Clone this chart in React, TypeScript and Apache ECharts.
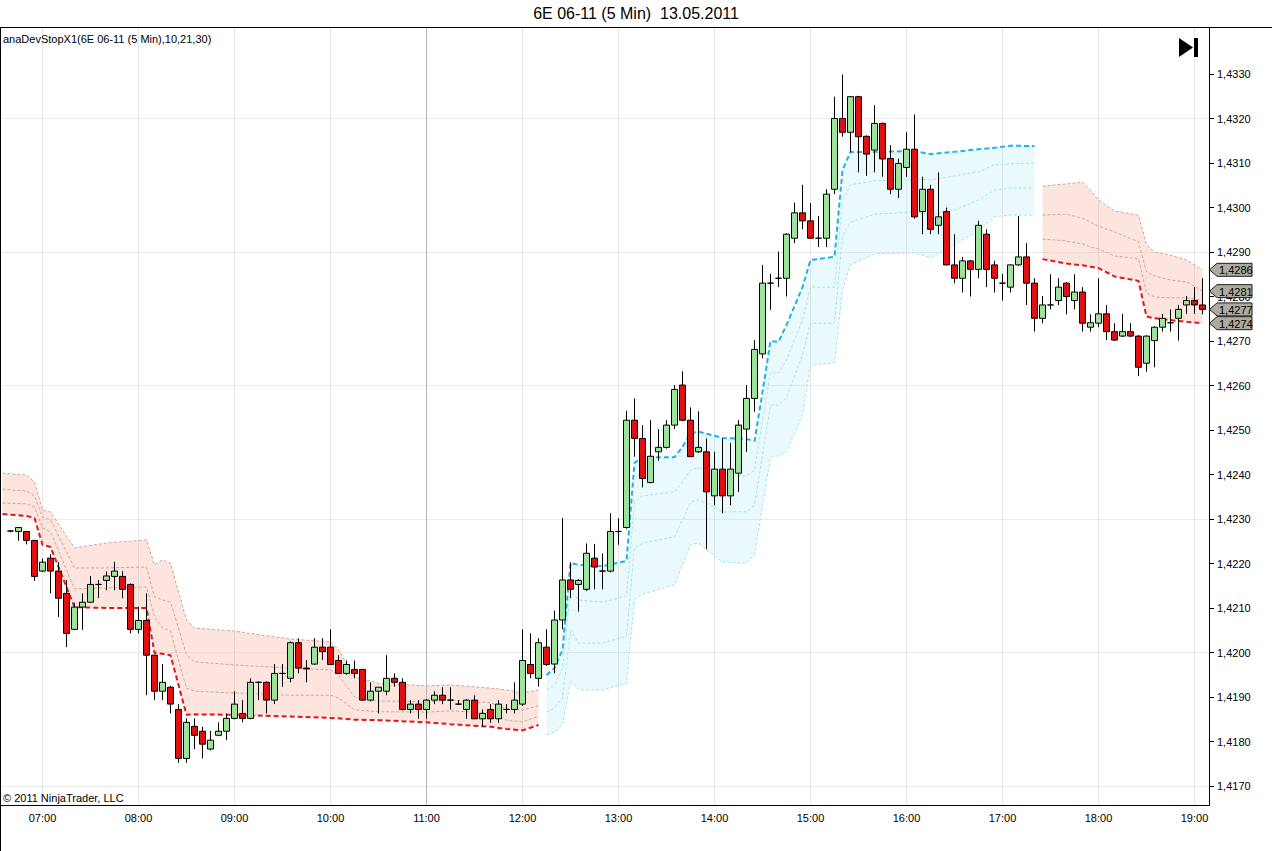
import React, { useEffect, useRef } from "react";
import * as echarts from "echarts";

// ---------- texts ----------
const TITLE = "6E 06-11 (5 Min)\u00a0 13.05.2011";
const INDICATOR_LABEL = "anaDevStopX1(6E 06-11 (5 Min),10,21,30)";
const COPYRIGHT = "\u00a9 2011 NinjaTrader, LLC";
const FONT = "'Liberation Sans', Arial, sans-serif";

// ---------- categories (5-minute slots, first slot has no bar) ----------
const FIRST_SLOT = "06:35";
const SLOT_COUNT = 151;
function buildSlots(): string[] {
  const [h0, m0] = FIRST_SLOT.split(":").map(Number);
  const out: string[] = [];
  for (let i = 0; i < SLOT_COUNT; i++) {
    const t = h0 * 60 + m0 + 5 * i;
    out.push(String(Math.floor(t / 60)).padStart(2, "0") + ":" + String(t % 60).padStart(2, "0"));
  }
  return out;
}
const slots = buildSlots();

// ---------- y tick labels ----------
const yTickMin = 1.417;
const yTickMax = 1.433;
const yTickStep = 0.001;
const gridLineMin = 1.417;
const gridLineMax = 1.432;
const gridLineStep = 0.003;

// ---------- bars 06:40 .. 19:05 ----------
const barOpen = [
  1.42273, 1.42272, 1.42272, 1.42252, 1.42183, 1.42212, 1.42183, 1.42133, 1.42052, 1.42102,
  1.42113, 1.42153, 1.42162, 1.42171, 1.42171, 1.42153, 1.42052, 1.42072, 1.41994, 1.41913,
  1.41922, 1.41872, 1.41762, 1.41834, 1.41823, 1.41783, 1.41814, 1.41823, 1.41852, 1.41863,
  1.41852, 1.41933, 1.41933, 1.41893, 1.41953, 1.41942, 1.42022, 1.41965, 1.41974, 1.42012,
  1.42012, 1.41982, 1.41953, 1.41962, 1.41962, 1.41893, 1.41913, 1.41913, 1.41942, 1.41933,
  1.41872, 1.41884, 1.41872, 1.41893, 1.41904, 1.41893, 1.41884, 1.41872, 1.41893, 1.41851,
  1.41872, 1.41851, 1.41872, 1.41872, 1.41884, 1.41973, 1.41942, 1.42012, 1.41974, 1.42073,
  1.42163, 1.42153, 1.42142, 1.42212, 1.42183, 1.42183, 1.42272, 1.42281, 1.42522, 1.42481,
  1.42382, 1.42451, 1.42461, 1.42511, 1.42601, 1.42522, 1.42451, 1.42451, 1.42352, 1.42412,
  1.42352, 1.42403, 1.42502, 1.42571, 1.42671, 1.4283, 1.42841, 1.42841, 1.42931, 1.42988,
  1.4297, 1.42931, 1.42931, 1.43041, 1.432, 1.43169, 1.43249, 1.4316, 1.43129, 1.43189,
  1.4311, 1.43041, 1.4309, 1.43131, 1.42991, 1.43041, 1.4296, 1.42991, 1.42871, 1.42841,
  1.4288, 1.42861, 1.4294, 1.42871, 1.4283, 1.42821, 1.42871, 1.42889, 1.4283, 1.42751,
  1.42781, 1.42791, 1.4283, 1.42791, 1.4281, 1.42731, 1.4274, 1.42761, 1.42721, 1.42711,
  1.42721, 1.42711, 1.4265, 1.42701, 1.42731, 1.42741, 1.42751, 1.42781, 1.42791, 1.42781,
];
const barHigh = [
  1.42275, 1.42282, 1.42273, 1.42253, 1.42211, 1.42221, 1.42203, 1.42163, 1.42111, 1.42133,
  1.42172, 1.42163, 1.42182, 1.42204, 1.42183, 1.42155, 1.42103, 1.42133, 1.41995, 1.41974,
  1.41925, 1.41884, 1.41852, 1.41852, 1.41833, 1.41824, 1.41843, 1.41863, 1.41913, 1.41893,
  1.41942, 1.41935, 1.41935, 1.41974, 1.41974, 1.42025, 1.42032, 1.41983, 1.42032, 1.42032,
  1.42052, 1.41994, 1.41982, 1.41982, 1.41963, 1.41933, 1.41922, 1.41994, 1.41953, 1.41942,
  1.41893, 1.41893, 1.41895, 1.41913, 1.41922, 1.41922, 1.41893, 1.41895, 1.41904, 1.41872,
  1.41884, 1.41893, 1.41884, 1.41933, 1.42052, 1.42043, 1.42032, 1.42052, 1.42094, 1.42302,
  1.42203, 1.42165, 1.42245, 1.42244, 1.42223, 1.42313, 1.42302, 1.42543, 1.42571, 1.42511,
  1.42522, 1.42502, 1.42522, 1.42601, 1.42632, 1.42551, 1.42542, 1.42481, 1.42451, 1.42481,
  1.42471, 1.42522, 1.42601, 1.42702, 1.42871, 1.42851, 1.42901, 1.42942, 1.43011, 1.43051,
  1.4301, 1.42981, 1.43041, 1.43249, 1.43299, 1.4325, 1.43251, 1.43162, 1.4323, 1.43191,
  1.4314, 1.4311, 1.43169, 1.43209, 1.43069, 1.43051, 1.43079, 1.43, 1.4294, 1.42889,
  1.42882, 1.4297, 1.42951, 1.4288, 1.42851, 1.42872, 1.42981, 1.4292, 1.42841, 1.42801,
  1.4285, 1.42841, 1.42832, 1.4285, 1.42821, 1.4276, 1.42841, 1.42781, 1.4274, 1.42761,
  1.4274, 1.42713, 1.42713, 1.42733, 1.42761, 1.42771, 1.42781, 1.42801, 1.42821, 1.42841,
];
const barLow = [
  1.4227, 1.42251, 1.42243, 1.42161, 1.42181, 1.42133, 1.4208, 1.42012, 1.4205, 1.42051,
  1.42112, 1.42122, 1.4214, 1.4214, 1.42122, 1.42043, 1.42043, 1.41904, 1.41893, 1.41893,
  1.41863, 1.41752, 1.41752, 1.41783, 1.41762, 1.4178, 1.41812, 1.41803, 1.4185, 1.41843,
  1.4185, 1.41893, 1.41863, 1.41884, 1.41923, 1.41933, 1.41953, 1.41933, 1.41972, 1.41983,
  1.41973, 1.41952, 1.4195, 1.41942, 1.41892, 1.4189, 1.41863, 1.41904, 1.41923, 1.4187,
  1.41863, 1.41851, 1.41851, 1.41884, 1.41884, 1.41872, 1.41882, 1.41851, 1.41851, 1.41833,
  1.41842, 1.41842, 1.41863, 1.41863, 1.4188, 1.41942, 1.41923, 1.4197, 1.41953, 1.42052,
  1.42122, 1.42092, 1.42138, 1.42142, 1.42142, 1.4218, 1.42242, 1.42278, 1.4244, 1.42371,
  1.4238, 1.42431, 1.42458, 1.42502, 1.4252, 1.4244, 1.42448, 1.42232, 1.42331, 1.42313,
  1.42331, 1.42361, 1.42451, 1.42541, 1.42661, 1.4277, 1.42821, 1.428, 1.4292, 1.42951,
  1.4293, 1.42911, 1.42911, 1.4303, 1.43159, 1.43124, 1.43079, 1.43071, 1.43079, 1.43069,
  1.4303, 1.43021, 1.43069, 1.42975, 1.4294, 1.4294, 1.4294, 1.4287, 1.4283, 1.42809,
  1.428, 1.42841, 1.42821, 1.42809, 1.42791, 1.42809, 1.42869, 1.42781, 1.42721, 1.4274,
  1.42771, 1.42781, 1.4276, 1.42771, 1.42721, 1.42721, 1.42731, 1.42702, 1.427, 1.42709,
  1.42709, 1.42621, 1.42631, 1.42641, 1.42721, 1.42721, 1.42701, 1.42761, 1.42761, 1.4276,
];
const barClose = [
  1.42273, 1.42281, 1.42252, 1.42171, 1.42203, 1.42183, 1.42122, 1.42043, 1.42102, 1.42113,
  1.42153, 1.42153, 1.42172, 1.42183, 1.42142, 1.42052, 1.42072, 1.41994, 1.41913, 1.41933,
  1.41884, 1.41762, 1.41843, 1.41814, 1.41794, 1.41803, 1.41823, 1.41852, 1.41884, 1.41852,
  1.41933, 1.41933, 1.41893, 1.41953, 1.41953, 1.42022, 1.41965, 1.41963, 1.42012, 1.42002,
  1.41973, 1.41953, 1.41973, 1.41953, 1.41893, 1.41913, 1.41922, 1.41942, 1.41933, 1.41872,
  1.41884, 1.41872, 1.41893, 1.41904, 1.41893, 1.41893, 1.41884, 1.41893, 1.41851, 1.41863,
  1.41851, 1.41884, 1.41872, 1.41893, 1.41982, 1.41953, 1.42022, 1.41973, 1.42073, 1.42163,
  1.42142, 1.42162, 1.42223, 1.42192, 1.42183, 1.42272, 1.42272, 1.42522, 1.42481, 1.42391,
  1.42441, 1.42461, 1.42511, 1.42591, 1.42522, 1.4244, 1.42461, 1.42361, 1.42412, 1.42352,
  1.42412, 1.42511, 1.42571, 1.42681, 1.4283, 1.4283, 1.42841, 1.4294, 1.42988, 1.4297,
  1.42931, 1.42931, 1.4303, 1.432, 1.43169, 1.43249, 1.43159, 1.4312, 1.43189, 1.43109,
  1.43041, 1.43099, 1.43131, 1.42979, 1.43041, 1.42951, 1.42979, 1.42871, 1.42841, 1.4288,
  1.42861, 1.4296, 1.42861, 1.42841, 1.4283, 1.42871, 1.42889, 1.4283, 1.42751, 1.42781,
  1.42781, 1.42821, 1.428, 1.4281, 1.4274, 1.42741, 1.42761, 1.42721, 1.42702, 1.42721,
  1.42711, 1.42641, 1.42711, 1.42731, 1.42751, 1.42741, 1.42771, 1.42791, 1.42781, 1.42771,
];

// ---------- anaDevStopX1: short regime 1 ----------
const short1Times = ["06:35", "06:50", "06:55", "07:00", "07:05", "07:20", "07:40", "08:05", "08:10", "08:15", "08:20", "08:25", "08:30", "08:35", "09:00", "09:35", "10:00", "10:05", "10:15", "10:30", "11:00", "11:15", "11:40", "11:50", "12:00", "12:10"];
const short1Stop = [1.42311, 1.42307, 1.42302, 1.42242, 1.42237, 1.42102, 1.421, 1.421, 1.41999, 1.41997, 1.41994, 1.41927, 1.4186, 1.41861, 1.4186, 1.41856, 1.41853, 1.41852, 1.41849, 1.41848, 1.41843, 1.41839, 1.41833, 1.41828, 1.41825, 1.41837];
const short1Dev1 = [1.42336, 1.42334, 1.42327, 1.4228, 1.42271, 1.42143, 1.42145, 1.42147, 1.4208, 1.42055, 1.42048, 1.41983, 1.4192, 1.41913, 1.41909, 1.41904, 1.41904, 1.41898, 1.41871, 1.41867, 1.41866, 1.41869, 1.41864, 1.41848, 1.41844, 1.41857];
const short1Dev2 = [1.42367, 1.42363, 1.42352, 1.42304, 1.42298, 1.4219, 1.4219, 1.42192, 1.42125, 1.42118, 1.42113, 1.42055, 1.41994, 1.41979, 1.41972, 1.41965, 1.41961, 1.41949, 1.419, 1.41891, 1.41889, 1.41893, 1.41887, 1.41873, 1.41871, 1.4188];
const short1Dev3 = [1.42403, 1.42399, 1.42383, 1.4232, 1.42316, 1.42235, 1.42246, 1.42253, 1.42197, 1.42208, 1.42201, 1.42136, 1.42073, 1.42055, 1.42048, 1.4203, 1.42024, 1.42006, 1.41945, 1.41931, 1.41925, 1.41927, 1.4192, 1.41916, 1.41909, 1.41916];

// ---------- long regime ----------
const longTimes = ["12:15", "12:20", "12:25", "12:30", "12:35", "12:50", "13:05", "13:10", "13:15", "13:35", "13:40", "13:45", "13:50", "14:00", "14:05", "14:20", "14:25", "14:30", "14:35", "14:40", "14:45", "14:55", "15:00", "15:15", "15:20", "15:25", "15:40", "16:05", "16:15", "16:30", "16:45", "16:55", "17:05", "17:20"];
const longStop = [1.41949, 1.41965, 1.42006, 1.42201, 1.42197, 1.42194, 1.42206, 1.42426, 1.42439, 1.42439, 1.42462, 1.42493, 1.42496, 1.42487, 1.42482, 1.4248, 1.42475, 1.42585, 1.427, 1.42698, 1.42736, 1.42821, 1.42882, 1.42889, 1.43084, 1.43125, 1.43125, 1.43127, 1.4312, 1.43125, 1.43131, 1.43134, 1.43139, 1.43138];
const longDev1 = [1.41916, 1.41927, 1.41965, 1.4214, 1.42118, 1.42113, 1.42127, 1.42338, 1.42352, 1.42361, 1.42383, 1.4241, 1.42415, 1.42406, 1.42399, 1.42397, 1.4241, 1.42522, 1.4263, 1.42628, 1.42657, 1.42747, 1.42821, 1.42821, 1.43017, 1.43051, 1.4306, 1.43064, 1.43062, 1.43071, 1.4308, 1.43096, 1.43098, 1.431];
const longDev2 = [1.41866, 1.41875, 1.41898, 1.42051, 1.42021, 1.42021, 1.42037, 1.42235, 1.42246, 1.4226, 1.42298, 1.42338, 1.42343, 1.42327, 1.42316, 1.42316, 1.42331, 1.42444, 1.42556, 1.42556, 1.42572, 1.42669, 1.4274, 1.4274, 1.42938, 1.42967, 1.42985, 1.4299, 1.42983, 1.42994, 1.43017, 1.43039, 1.43044, 1.43044];
const longDev3 = [1.41815, 1.41821, 1.41837, 1.41938, 1.41916, 1.41916, 1.41931, 1.42118, 1.42131, 1.42152, 1.42197, 1.42242, 1.42246, 1.42217, 1.42203, 1.42201, 1.42219, 1.42331, 1.42439, 1.42442, 1.42451, 1.42534, 1.42646, 1.42651, 1.42815, 1.42871, 1.42896, 1.42898, 1.42887, 1.42916, 1.42949, 1.42979, 1.42983, 1.42983];

// ---------- short regime 2 ----------
const short2Times = ["17:25", "17:40", "17:50", "17:55", "18:00", "18:10", "18:25", "18:30", "18:35", "18:45", "18:55", "19:05"];
const short2Stop = [1.42884, 1.42874, 1.4287, 1.42867, 1.42864, 1.42845, 1.42835, 1.42755, 1.42751, 1.42747, 1.42743, 1.4274];
const short2Dev1 = [1.42929, 1.42925, 1.42918, 1.42911, 1.42907, 1.42891, 1.42885, 1.42808, 1.42799, 1.42797, 1.42797, 1.42792];
const short2Dev2 = [1.42983, 1.42985, 1.42976, 1.42967, 1.42958, 1.42945, 1.42923, 1.42855, 1.42846, 1.42837, 1.42833, 1.42812];
const short2Dev3 = [1.43048, 1.43053, 1.43057, 1.43039, 1.43017, 1.42992, 1.42983, 1.42916, 1.429, 1.42893, 1.42882, 1.4286];

const SESSION_MARK = "11:00";

// ---------- style ----------
const UP_FILL = "#9de29d";
const DOWN_FILL = "#df1010";
const RED_STOP = "#e3161f";
const BLUE_STOP = "#1fb2e6";
const RED_DEV = "#d9a294";
const BLUE_DEV = "#a9e3ec";
const RED_FILL = "rgba(246,170,150,0.30)";
const BLUE_FILL = "rgba(150,228,240,0.20)";

// layout (pixels)
const W = 1272;
const H = 851;
const FRAME_TOP = 27;
const FRAME_BOTTOM = 805;
const AXIS_X = 1209;
const LABEL_TOP = 74;
const LABEL_BOTTOM = 786;
const SLOT0_X = 2.5;
const SLOT_W = 8;

const fmt = (v: number) => v.toFixed(4).replace(".", ",");
const pairs = (t: string[], v: number[]) => t.map((x, i) => [x, v[i]]);
const diffs = (t: string[], a: number[], b: number[]) => t.map((x, i) => [x, +(a[i] - b[i]).toFixed(6)]);
const isHour = (_i: number, v: string) => v.endsWith(":00");

function bandSeries(id: string, times: string[], stop: number[], d1: number[], d2: number[], d3: number[], long: boolean) {
  const base = long ? d3 : stop;
  const top = long ? stop : d3;
  const common = { type: "line", xAxisIndex: 1, yAxisIndex: 1, symbol: "none", showSymbol: false, silent: true, animation: false };
  const devLine = (d: number[]) => ({
    ...common,
    data: pairs(times, d),
    lineStyle: { color: long ? BLUE_DEV : RED_DEV, width: 1, type: [3, 2] },
    z: 3,
  });
  return [
    { ...common, data: pairs(times, base), stack: id, lineStyle: { opacity: 0 }, z: 2 },
    {
      ...common,
      data: diffs(times, top, base),
      stack: id,
      lineStyle: { opacity: 0 },
      areaStyle: { color: long ? BLUE_FILL : RED_FILL, opacity: 1 },
      z: 2,
    },
    devLine(d1),
    devLine(d2),
    devLine(d3),
    {
      ...common,
      data: pairs(times, stop),
      lineStyle: { color: long ? BLUE_STOP : RED_STOP, width: 2, type: [5, 3] },
      z: 4,
    },
  ];
}

export default function App() {
  const ref = useRef<HTMLDivElement>(null);
  useEffect(() => {
    document.body.style.margin = "0";
    if (!ref.current) return;
    const chart = echarts.init(ref.current, undefined, { renderer: "svg" });
    const pxPerUnit = (LABEL_BOTTOM - LABEL_TOP) / (yTickMax - yTickMin);
    const plotMin = yTickMin - (FRAME_BOTTOM - LABEL_BOTTOM) / pxPerUnit;
    const plotMax = yTickMax + (LABEL_TOP - FRAME_TOP) / pxPerUnit;
    const gridLinesTop = LABEL_TOP + (yTickMax - gridLineMax) * pxPerUnit;

    const candleData: any[] = ["-"];
    barOpen.forEach((o, i) => candleData.push([o, barClose[i], barLow[i], barHigh[i]]));

    chart.setOption({
      animation: false,
      textStyle: { fontFamily: FONT },
      grid: [
        { left: 1, top: LABEL_TOP, width: AXIS_X - 1, height: LABEL_BOTTOM - LABEL_TOP },
        { left: SLOT0_X, top: FRAME_TOP, width: SLOT_W * (SLOT_COUNT - 1), height: FRAME_BOTTOM - FRAME_TOP },
        { left: 1, top: gridLinesTop, width: AXIS_X - 1, height: LABEL_BOTTOM - gridLinesTop },
      ],
      xAxis: [
        { gridIndex: 0, type: "value", show: false, min: 0, max: 1, axisLine: { onZero: false } },
        {
          gridIndex: 1,
          type: "category",
          data: slots,
          boundaryGap: false,
          axisLine: { show: false, onZero: false },
          axisTick: { show: false },
          axisLabel: { interval: isHour, margin: 7, fontSize: 11, color: "#000", fontFamily: FONT },
          splitLine: { show: true, interval: isHour, lineStyle: { color: "#e6e6e6", width: 1 } },
        },
        { gridIndex: 2, type: "value", show: false, min: 0, max: 1, axisLine: { onZero: false } },
      ],
      yAxis: [
        {
          gridIndex: 0,
          type: "value",
          position: "right",
          min: yTickMin,
          max: yTickMax,
          interval: yTickStep,
          axisLine: { show: false, onZero: false },
          axisTick: { show: true, length: 5, lineStyle: { color: "#000" } },
          axisLabel: { margin: 8, fontSize: 11, color: "#000", fontFamily: FONT, formatter: (v: number) => fmt(v) },
          splitLine: { show: false },
        },
        { gridIndex: 1, type: "value", min: plotMin, max: plotMax, show: false, axisLine: { onZero: false }, splitLine: { show: false } },
        {
          gridIndex: 2,
          type: "value",
          min: gridLineMin,
          max: gridLineMax,
          interval: gridLineStep,
          axisLine: { show: false, onZero: false },
          axisTick: { show: false },
          axisLabel: { show: false },
          splitLine: { show: true, lineStyle: { color: "#ebebeb", width: 1 } },
        },
      ],
      series: [
        ...bandSeries("s1", short1Times, short1Stop, short1Dev1, short1Dev2, short1Dev3, false),
        ...bandSeries("l1", longTimes, longStop, longDev1, longDev2, longDev3, true),
        ...bandSeries("s2", short2Times, short2Stop, short2Dev1, short2Dev2, short2Dev3, false),
        {
          type: "candlestick",
          xAxisIndex: 1,
          yAxisIndex: 1,
          data: candleData,
          barWidth: 6,
          z: 6,
          itemStyle: {
            color: UP_FILL,
            color0: DOWN_FILL,
            borderColor: "#000",
            borderColor0: "#000",
            borderWidth: 1,
          },
          markLine: {
            silent: true,
            symbol: ["none", "none"],
            label: { show: false },
            lineStyle: { color: "#b5b5b5", type: "solid", width: 1 },
            data: [{ xAxis: SESSION_MARK }],
            z: 1,
          },
        },
      ],
    });

    const last = (a: number[]) => a[a.length - 1];
    const markers = [last(short2Dev3), last(short2Dev2), last(barClose), last(short2Stop)];
    const markerEls = markers.map((v) => {
      const yc = chart.convertToPixel({ yAxisIndex: 0 } as any, v) as unknown as number;
      return {
        type: "group",
        z: 60,
        children: [
          {
            type: "polygon",
            z: 60,
            shape: {
              points: [
                [AXIS_X + 0.5, yc],
                [AXIS_X + 8, yc - 6.5],
                [AXIS_X + 43, yc - 6.5],
                [AXIS_X + 43, yc + 6.5],
                [AXIS_X + 8, yc + 6.5],
              ],
            },
            style: { fill: "#adaa9f", stroke: "#1e1e1e", lineWidth: 1 },
          },
          {
            type: "text",
            z: 61,
            x: AXIS_X + 10,
            y: yc + 0.5,
            style: { text: fmt(v), fontSize: 11, fill: "#000", fontFamily: FONT, verticalAlign: "middle", align: "left" },
          },
        ],
      };
    });

    chart.setOption({
      graphic: {
        elements: [
          { type: "line", z: 50, shape: { x1: 0, y1: FRAME_TOP + 0.5, x2: W, y2: FRAME_TOP + 0.5 }, style: { stroke: "#000", lineWidth: 1 } },
          { type: "line", z: 50, shape: { x1: 0.5, y1: FRAME_TOP, x2: 0.5, y2: H }, style: { stroke: "#000", lineWidth: 1 } },
          { type: "line", z: 50, shape: { x1: AXIS_X + 0.5, y1: FRAME_TOP, x2: AXIS_X + 0.5, y2: FRAME_BOTTOM + 0.5 }, style: { stroke: "#000", lineWidth: 1 } },
          { type: "line", z: 50, shape: { x1: 0, y1: FRAME_BOTTOM + 0.5, x2: AXIS_X + 0.5, y2: FRAME_BOTTOM + 0.5 }, style: { stroke: "#000", lineWidth: 1 } },
          {
            type: "text",
            z: 50,
            x: W / 2,
            y: 13,
            style: { text: TITLE, fontSize: 16, fill: "#000", fontFamily: FONT, align: "center", verticalAlign: "middle" },
          },
          {
            type: "text",
            z: 50,
            x: 3,
            y: 39,
            style: { text: INDICATOR_LABEL, fontSize: 11, fill: "#000", fontFamily: FONT, align: "left", verticalAlign: "middle" },
          },
          {
            type: "text",
            z: 50,
            x: 3,
            y: 798,
            style: { text: COPYRIGHT, fontSize: 11, fill: "#000", fontFamily: FONT, align: "left", verticalAlign: "middle" },
          },
          { type: "polygon", z: 50, shape: { points: [[1179, 38], [1179, 57], [1193, 47.5]] }, style: { fill: "#000" } },
          { type: "rect", z: 50, shape: { x: 1194, y: 38, width: 4, height: 19 }, style: { fill: "#000" } },
          ...markerEls,
        ],
      },
    });

    return () => chart.dispose();
  }, []);
  return <div ref={ref} style={{ width: W, height: H }} />;
}
